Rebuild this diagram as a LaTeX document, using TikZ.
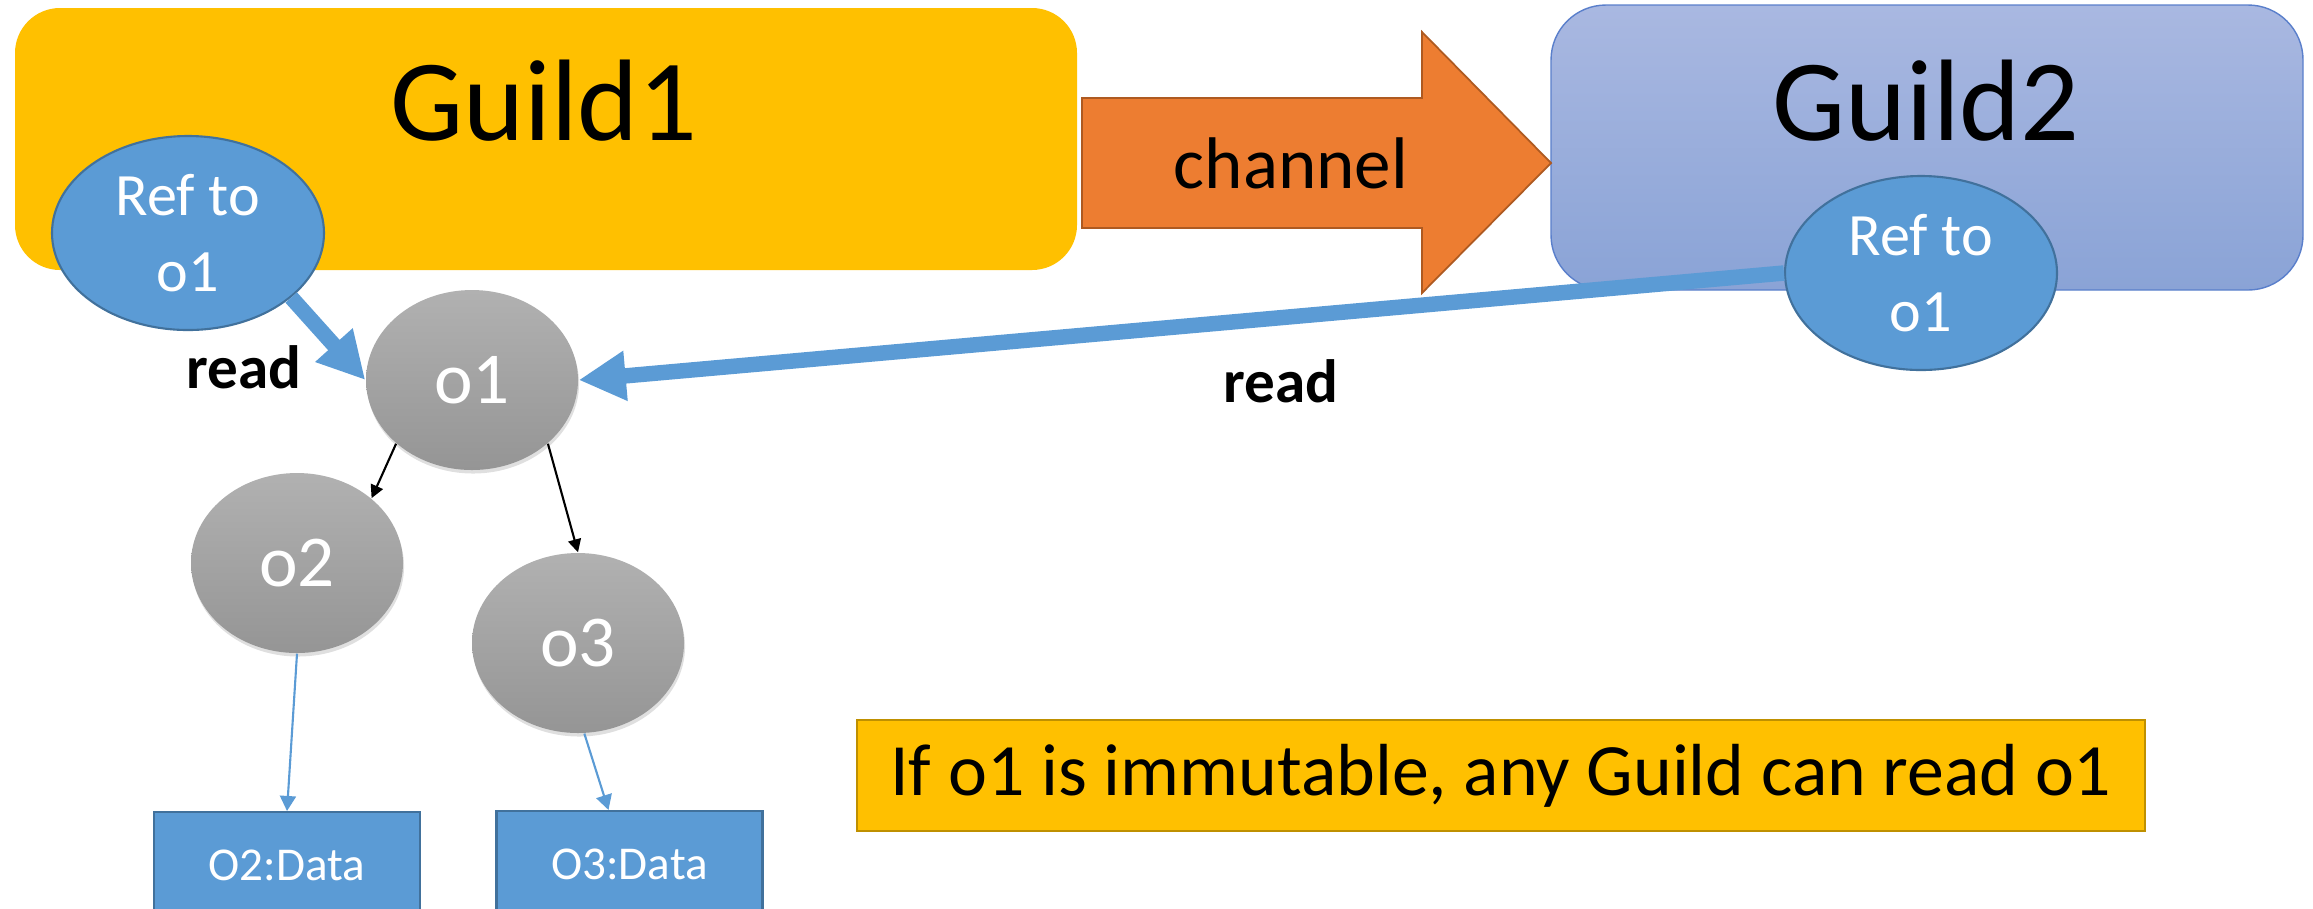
\documentclass[tikz,border=0pt]{standalone}
\usepackage{fontspec}
\setmainfont{Carlito}
\usetikzlibrary{shapes.geometric,arrows.meta,shadows}
\definecolor{or}{HTML}{FFC000}
\definecolor{orbord}{HTML}{BF9000}
\definecolor{bleu}{HTML}{5B9BD5}
\definecolor{bleubord}{HTML}{41719C}
\definecolor{mauvehaut}{HTML}{A9B8E1}
\definecolor{mauvebas}{HTML}{8AA3D6}
\definecolor{mauvebord}{HTML}{5A7FCB}
\definecolor{orange}{HTML}{ED7D31}
\definecolor{orangebord}{HTML}{AE5A21}
\definecolor{grishaut}{HTML}{B1B1B1}
\definecolor{grisbas}{HTML}{959595}
\begin{document}
\begin{tikzpicture}[
	guilde/.style={rectangle, inner sep=0pt},
	titre/.style={anchor=base, inner sep=0pt, font=\fontsize{33pt}{40pt}\selectfont},
	ref/.style={ellipse, fill=bleu, draw=bleubord, line width=0.6pt, text=white, align=center,
		inner sep=0pt, minimum width=2.72cm, minimum height=1.94cm, font=\fontsize{17.1pt}{21.6pt}\selectfont},
	objet/.style={ellipse, top color=grishaut, bottom color=grisbas, text=white, inner sep=0pt,
		minimum width=2.12cm, minimum height=1.8cm, font=\fontsize{20.8pt}{25pt}\selectfont,
		drop shadow={shadow xshift=0.3pt, shadow yshift=-1pt, opacity=0.18, fill=black!70}},
	donnee/.style={rectangle, fill=bleu, draw=bleubord, line width=0.6pt, text=white, inner sep=0pt,
		minimum width=2.66cm, minimum height=1.06cm, font=\fontsize{13.4pt}{16pt}\selectfont},
	lecture/.style={anchor=base, inner sep=0pt, font=\bfseries\fontsize{17.4pt}{21pt}\selectfont},
	gros/.style={bleu, line width=4.4pt, -{Triangle[length=0.47cm, width=0.47cm]}},
	fin/.style={line width=0.6pt, -{Triangle[length=0.13cm, width=0.13cm]}},
	finbleu/.style={bleu, line width=0.6pt, -{Triangle[length=0.15cm, width=0.16cm]}}
]
	\useasboundingbox (0,0) rectangle (23.13,-9.08);
	\clip (0,0) rectangle (23.13,-9.08);
	%\draw[help lines] (0,-9) grid (23,0);
	% les deux guildes
	\node[guilde, fill=or, rounded corners=0.45cm, minimum width=10.62cm, minimum height=2.62cm] (g1) at (5.46,-1.39) {};
	\node[titre] (g1t) at (5.44,-1.40) {Guild1};
	\node[guilde, top color=mauvehaut, bottom color=mauvebas, draw=mauvebord, line width=0.4pt,
		rounded corners=0.55cm, minimum width=7.52cm, minimum height=2.85cm] (g2) at (19.27,-1.475) {};
	\node[titre] (g2t) at (19.26,-1.40) {Guild2};
	% le canal
	\draw[fill=orange, draw=orangebord, line width=0.5pt]
		(10.82,-0.98) -- (14.22,-0.98) -- (14.22,-0.32) -- (15.51,-1.63)
		-- (14.22,-2.93) -- (14.22,-2.28) -- (10.82,-2.28) -- cycle;
	\node[anchor=base, inner sep=0pt, font=\fontsize{20.8pt}{25pt}\selectfont] (canal) at (12.91,-1.88) {channel};
	% les objets
	\path
		(1.88,-2.33) node[ref] (r1) {Ref to\\o1}
		(19.21,-2.73) node[ref] (r2) {Ref to\\o1}
		(4.72,-3.80) node[objet] (o1) {o1}
		(2.97,-5.63) node[objet] (o2) {o2}
		(5.78,-6.43) node[objet] (o3) {o3}
		(2.87,-8.65) node[donnee] (d2) {O2:Data}
		(6.295,-8.64) node[donnee] (d3) {O3:Data}
	;
	\draw[gros] (r1.-32) -- (o1.west);
	\draw[gros] (r2.west) -- (o1.east);
	\node[lecture] (l1) at (2.44,-3.88) {read};
	\node[lecture] (l2) at (12.81,-4.02) {read};
	\draw[fin] (o1.220) -- (o2.41);
	\draw[fin] (o1.320) -- (o3.north);
	\draw[finbleu] (o2.south) -- (d2.north);
	\draw[finbleu] (o3.-86) -- ([xshift=-0.21cm]d3.north);
	% la remarque
	\node[rectangle, fill=or, draw=orbord, line width=0.8pt, inner sep=0pt, minimum width=12.88cm, minimum height=1.11cm,
		font=\fontsize{21pt}{25pt}\selectfont] (note) at (15.01,-7.755) {If o1 is immutable, any Guild can read o1};
\end{tikzpicture}
\end{document}
